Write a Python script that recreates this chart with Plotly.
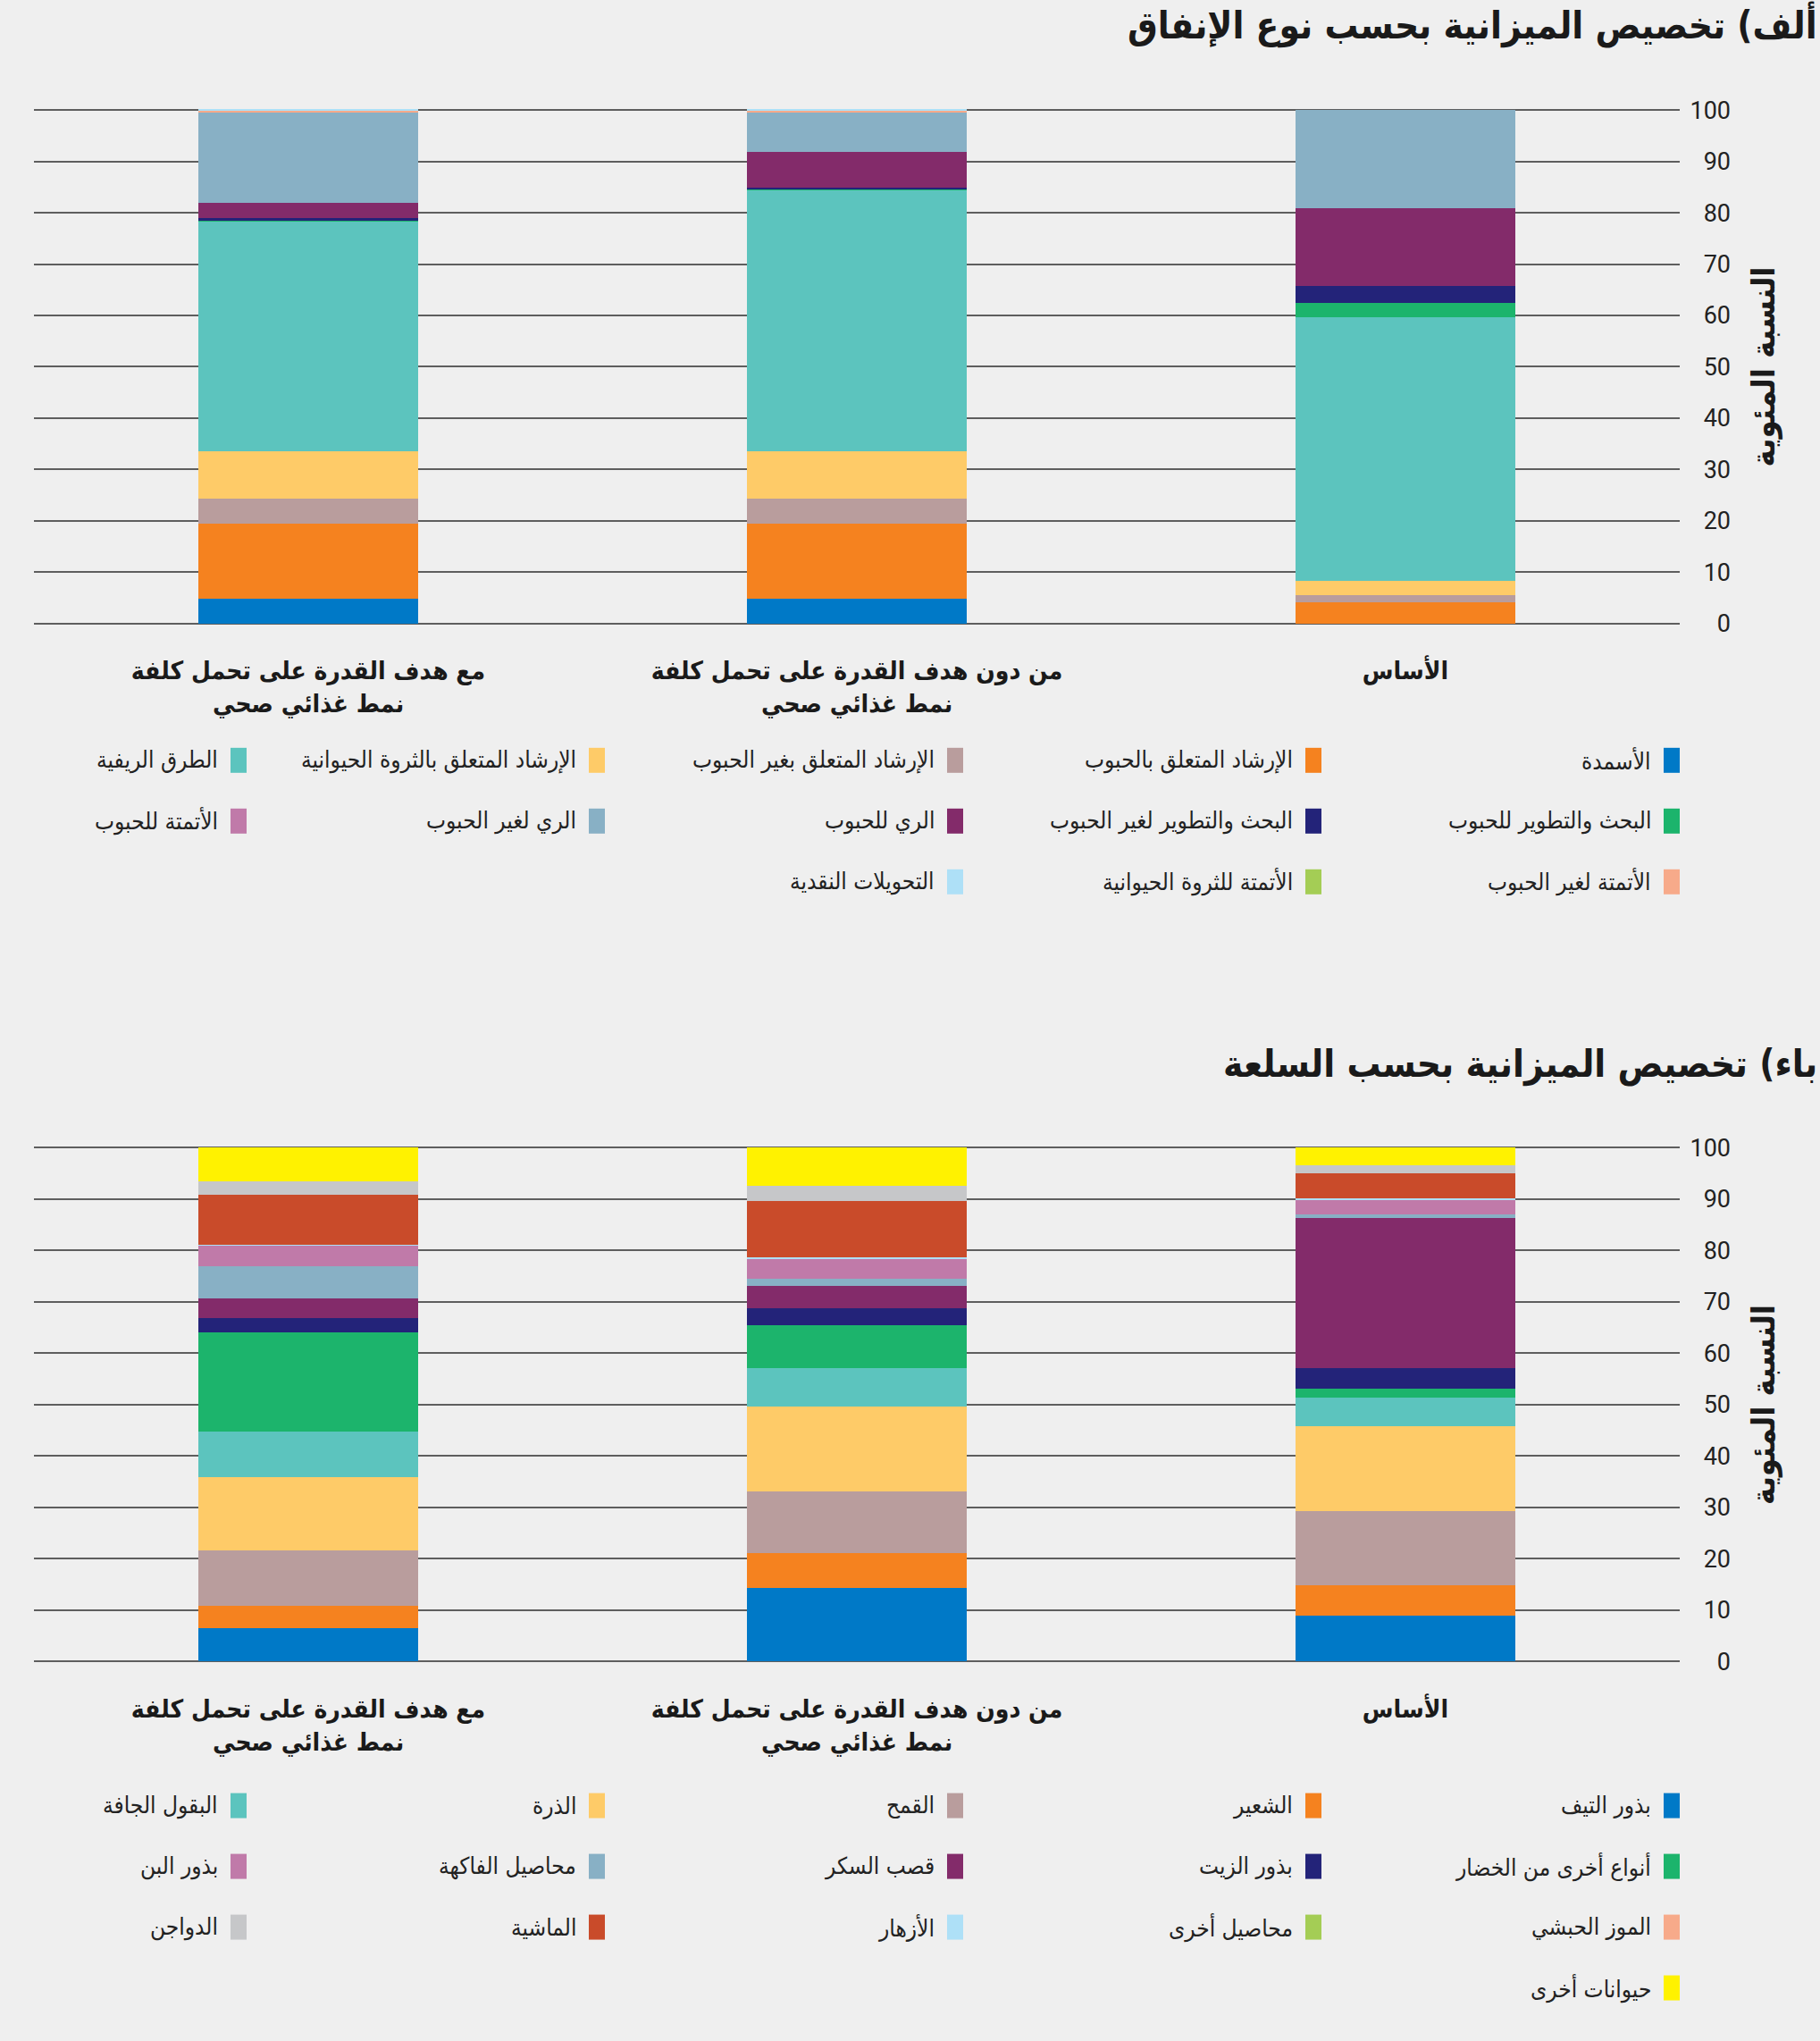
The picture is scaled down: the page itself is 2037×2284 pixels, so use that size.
import plotly.graph_objects as go

W, H = 2037, 2284

# ---------------- data ----------------
categories = [
    "الأساس",
    "من دون هدف القدرة على تحمل كلفة<br>نمط غذائي صحي",
    "مع هدف القدرة على تحمل كلفة<br>نمط غذائي صحي",
]

# Panel A: by spending type  (values for: baseline, without target, with target)
a_names = [
    "الأسمدة",
    "الإرشاد المتعلق بالحبوب",
    "الإرشاد المتعلق بغير الحبوب",
    "الإرشاد المتعلق بالثروة الحيوانية",
    "الطرق الريفية",
    "البحث والتطوير للحبوب",
    "البحث والتطوير لغير الحبوب",
    "الري للحبوب",
    "الري لغير الحبوب",
    "الأتمتة للحبوب",
    "الأتمتة لغير الحبوب",
    "الأتمتة للثروة الحيوانية",
    "التحويلات النقدية",
]
a_fertilizers = [0.0, 4.9, 4.9]
a_ext_cereals = [4.1, 14.5, 14.5]
a_ext_noncereals = [1.4, 5.0, 5.0]
a_ext_livestock = [2.8, 9.1, 9.1]
a_rural_roads = [51.3, 50.9, 44.9]
a_rd_cereals = [2.9, 0.1, 0.1]
a_rd_noncereals = [3.2, 0.4, 0.4]
a_irr_cereals = [15.2, 6.9, 3.1]
a_irr_noncereals = [19.1, 7.7, 17.5]
a_auto_cereals = [0.0, 0.0, 0.0]
a_auto_noncereals = [0.0, 0.4, 0.4]
a_auto_livestock = [0.0, 0.0, 0.0]
a_cash_transfers = [0.0, 0.2, 0.2]
a_values = [a_fertilizers, a_ext_cereals, a_ext_noncereals, a_ext_livestock,
            a_rural_roads, a_rd_cereals, a_rd_noncereals, a_irr_cereals,
            a_irr_noncereals, a_auto_cereals, a_auto_noncereals,
            a_auto_livestock, a_cash_transfers]
a_colors = ["#0079c7", "#f5821f", "#b99d9d", "#fecb68", "#5cc4be", "#1cb46c",
            "#232379", "#832b6a", "#88b0c5", "#c07aa9", "#f7aa8a", "#a4cd55",
            "#aee0f7"]

# Panel B: by commodity
b_names = [
    "بذور التيف",
    "الشعير",
    "القمح",
    "الذرة",
    "البقول الجافة",
    "أنواع أخرى من الخضار",
    "بذور الزيت",
    "قصب السكر",
    "محاصيل الفاكهة",
    "بذور البن",
    "الموز الحبشي",
    "محاصيل أخرى",
    "الأزهار",
    "الماشية",
    "الدواجن",
    "حيوانات أخرى",
]
b_teff = [9.0, 14.4, 6.6]
b_barley = [5.8, 6.8, 4.3]
b_wheat = [14.5, 12.0, 10.8]
b_maize = [16.6, 16.4, 14.2]
b_pulses = [5.4, 7.5, 8.9]
b_other_veg = [1.9, 8.3, 19.2]
b_oilseeds = [4.0, 3.4, 2.9]
b_sugarcane = [29.2, 4.3, 3.8]
b_fruit = [0.7, 1.4, 6.2]
b_coffee = [2.8, 3.8, 4.0]
b_enset = [0.0, 0.0, 0.0]
b_other_crops = [0.0, 0.0, 0.0]
b_flowers = [0.3, 0.3, 0.3]
b_livestock = [4.8, 11.0, 9.6]
b_poultry = [1.6, 3.0, 2.7]
b_other_animals = [3.4, 7.4, 6.5]
b_values = [b_teff, b_barley, b_wheat, b_maize, b_pulses, b_other_veg,
            b_oilseeds, b_sugarcane, b_fruit, b_coffee, b_enset,
            b_other_crops, b_flowers, b_livestock, b_poultry, b_other_animals]
b_colors = ["#0079c7", "#f5821f", "#b99d9d", "#fecb68", "#5cc4be", "#1cb46c",
            "#232379", "#832b6a", "#88b0c5", "#c07aa9", "#f7aa8a", "#a4cd55",
            "#aee0f7", "#c94b2a", "#c6c7c9", "#fff200"]

y_ticks = [0, 10, 20, 30, 40, 50, 60, 70, 80, 90, 100]
y_title = "النسبة المئوية"
title_a = "ألف) تخصيص الميزانية بحسب نوع الإنفاق"
title_b = "باء) تخصيص الميزانية بحسب السلعة"

# ---------------- layout helpers ----------------
FONT = "DejaVu Sans Condensed"
BG = "#efefef"


def px(x):
    return x / W


def vy(y):
    # vertical position in page pixels (from top) -> layout pixels
    return (y - 15.0) / 0.9875


def py(y):
    return 1 - vy(y) / H


X0, X1 = 38, 1880
panels = [
    dict(top=123, bot=700, legend_y=852, title_y=29, names=a_names,
         values=a_values, colors=a_colors, title=title_a),
    dict(top=1284.5, bot=1862, legend_y=2022, title_y=1192, names=b_names,
         values=b_values, colors=b_colors, title=title_b),
]

fig = go.Figure()
shapes = []
annotations = []

for k, p in enumerate(panels):
    xa = "x" if k == 0 else "x2"
    ya = "y" if k == 0 else "y2"
    for name, vals, col in zip(p["names"], p["values"], p["colors"]):
        fig.add_trace(go.Bar(
            x=categories, y=vals, name=name, xaxis=xa, yaxis=ya,
            marker=dict(color=col, line=dict(width=0)),
            showlegend=False, hovertemplate=name + ": %{y}<extra></extra>",
        ))
    # custom RTL legend
    for i, (name, col) in enumerate(zip(p["names"], p["colors"])):
        row, c = divmod(i, 5)
        xr = X1 - c * 401
        yc = p["legend_y"] + row * 68
        shapes.append(dict(type="rect", xref="paper", yref="paper",
                           x0=px(xr - 18), x1=px(xr), y0=py(yc + 14), y1=py(yc - 14),
                           fillcolor=col, line=dict(width=0)))
        annotations.append(dict(xref="paper", yref="paper", x=px(xr - 30), y=py(yc),
                                xanchor="right", yanchor="middle", showarrow=False,
                                text=name, font=dict(family=FONT, size=26, color="#222")))
    # title
    annotations.append(dict(xref="paper", yref="paper", x=px(2036), y=py(p["title_y"]),
                            xanchor="right", yanchor="middle", showarrow=False,
                            text=p["title"],
                            font=dict(family=FONT, size=42, weight=700, color="#1a1a1a")))
    # y-axis title
    annotations.append(dict(xref="paper", yref="paper", x=px(1974),
                            y=py((p["top"] + p["bot"]) / 2),
                            xanchor="center", yanchor="middle", showarrow=False,
                            textangle=-90, text=y_title,
                            font=dict(family=FONT, size=36, weight=700, color="#1a1a1a")))

xaxis_common = dict(
    type="category", autorange="reversed", showgrid=False, zeroline=False,
    showline=False, ticks="outside", ticklen=27, tickcolor="rgba(0,0,0,0)",
    tickfont=dict(family=FONT, size=28, weight=700, color="#1a1a1a"),
    domain=[px(X0), px(X1)],
)
yaxis_common = dict(
    range=[-0.2, 100.2], tickvals=y_ticks, ticktext=[str(t) for t in y_ticks],
    showgrid=True, gridcolor="#5e5e5e", gridwidth=2, zeroline=False,
    showline=False, ticks="", side="left", anchor="free", position=px(1937),
    tickfont=dict(family="Roboto", size=27, color="#222"),
)

fig.update_layout(
    width=W, height=H, autosize=False, margin=dict(l=0, r=0, t=0, b=0),
    paper_bgcolor=BG, plot_bgcolor=BG, barmode="stack", bargap=0.6,
    xaxis=dict(xaxis_common, anchor="y"),
    xaxis2=dict(xaxis_common, anchor="y2"),
    yaxis=dict(yaxis_common, domain=[py(panels[0]["bot"]), py(panels[0]["top"])]),
    yaxis2=dict(yaxis_common, domain=[py(panels[1]["bot"]), py(panels[1]["top"])]),
    shapes=shapes, annotations=annotations,
    font=dict(family=FONT),
)

fig.write_html(
    "out.html",
    config={"displayModeBar": False, "responsive": False},
    post_script="document.documentElement.style.margin='0';"
                "document.documentElement.style.overflow='hidden';"
                "document.body.style.margin='0';"
                "document.body.style.padding='0';"
                "document.body.style.overflow='hidden';"
                "document.body.style.background='#efefef';",
)
